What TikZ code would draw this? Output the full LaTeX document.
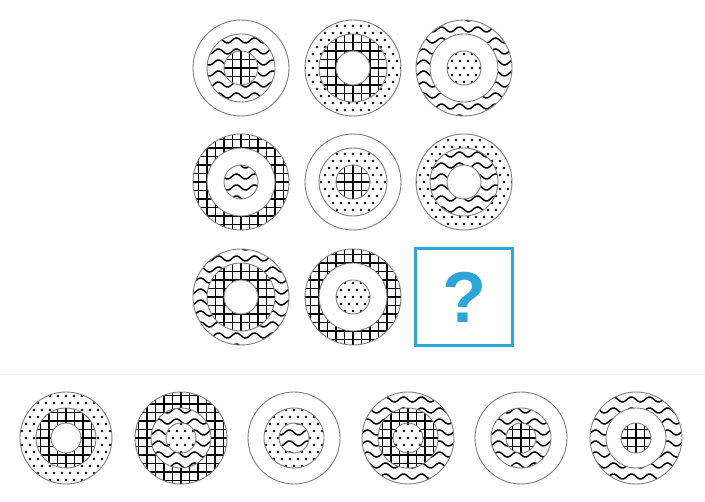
\documentclass[tikz,border=0pt]{standalone}
\usepackage{fontspec}
\setmainfont{Liberation Sans}
\usepackage{xcolor}
\definecolor{quizblue}{RGB}{43,166,214}
\definecolor{ringgray}{RGB}{125,125,125}

% fill patterns: x, y, radius
\newcommand{\patblank}[3]{}
\newcommand{\patgrid}[3]{%
  \pgfmathtruncatemacro\nn{#3/8.5}%
  \foreach \k in {-\nn,...,\nn}{
    \pgfmathsetmacro\hh{sqrt(max(#3*#3-(\k*8.5)^2,0))}
    \draw[gridline] ({#1+\k*8.5},{#2-\hh}) -- ({#1+\k*8.5},{#2+\hh});
    \draw[gridline] ({#1-\hh},{#2+\k*8.5}) -- ({#1+\hh},{#2+\k*8.5});
  }}
\newcommand{\patdots}[3]{%
  \pgfmathtruncatemacro\nn{#3/7+1}%
  \foreach \i in {-\nn,...,\nn}
    \foreach \j in {-\nn,...,\nn}
      \fill[dotfill] ({#1+\i*8+mod(\j,2)*4},{#2+\j*7}) circle (1.3);}
\newcommand{\patwaves}[3]{%
  \pgfmathtruncatemacro\nn{#3/11+1}%
  \pgfmathsetmacro\wa{#1-#3}%
  \pgfmathsetmacro\wb{#1+#3}%
  \foreach \k in {-\nn,...,\nn}
    \draw[waveline] plot[domain=\wa:\wb, samples=70, smooth]
      (\x, {#2+\k*11+5.5+2.5*sin(20*(\x-#1))});}

% one ring figure: x, y, outer, middle, inner
\newcommand{\target}[5]{%
  \begin{scope}
    \clip (#1,#2) circle (\rOut);
    \csname pat#3\endcsname{#1}{#2}{\rOut}
  \end{scope}
  \fill[white] (#1,#2) circle (\rMid);
  \begin{scope}
    \clip (#1,#2) circle (\rMid);
    \csname pat#4\endcsname{#1}{#2}{\rMid}
  \end{scope}
  \fill[white] (#1,#2) circle (\rIn);
  \begin{scope}
    \clip (#1,#2) circle (\rIn);
    \csname pat#5\endcsname{#1}{#2}{\rIn}
  \end{scope}
  \draw[ring] (#1,#2) circle (\rOut) (#1,#2) circle (\rMid) (#1,#2) circle (\rIn);}

\begin{document}
\begin{tikzpicture}[
    x=1pt, y=-1pt,
    gridline/.style={black, line width=1.2pt},
    dotfill/.style={black},
    waveline/.style={black, line width=1.5pt},
    ring/.style={draw=ringgray, line width=0.9pt},
    qbox/.style={rectangle, draw=quizblue, line width=2.4pt, minimum size=97pt, text=quizblue, font=\fontsize{72}{72}\selectfont\bfseries},
    sepline/.style={draw=black!7, line width=1pt}
  ]
  \useasboundingbox (0,0) rectangle (705,502);

  % matrix
  \def\rOut{48}\def\rMid{34}\def\rIn{17}
  \foreach \cx/\cy/\pa/\pb/\pc in {
      241/68/blank/waves/grid, 353/68/dots/grid/blank, 464/68/waves/blank/dots,
      241/182/grid/blank/waves, 353/182/blank/dots/grid, 464/182/dots/waves/blank,
      241/297/waves/grid/blank, 353/297/grid/blank/dots}
    {\target{\cx}{\cy}{\pa}{\pb}{\pc}}
  \node[qbox] (quest) at (464,297) {?};

  \draw[sepline] (0,374.5) -- (705,374.5);

  % answer options
  \def\rOut{46}\def\rMid{30}\def\rIn{15}
  \foreach \cx/\pa/\pb/\pc in {
      66/dots/grid/blank, 181/grid/waves/dots, 294/blank/dots/waves,
      408/waves/grid/dots, 521/blank/waves/grid, 636/waves/blank/grid}
    {\target{\cx}{438}{\pa}{\pb}{\pc}}
\end{tikzpicture}
\end{document}
